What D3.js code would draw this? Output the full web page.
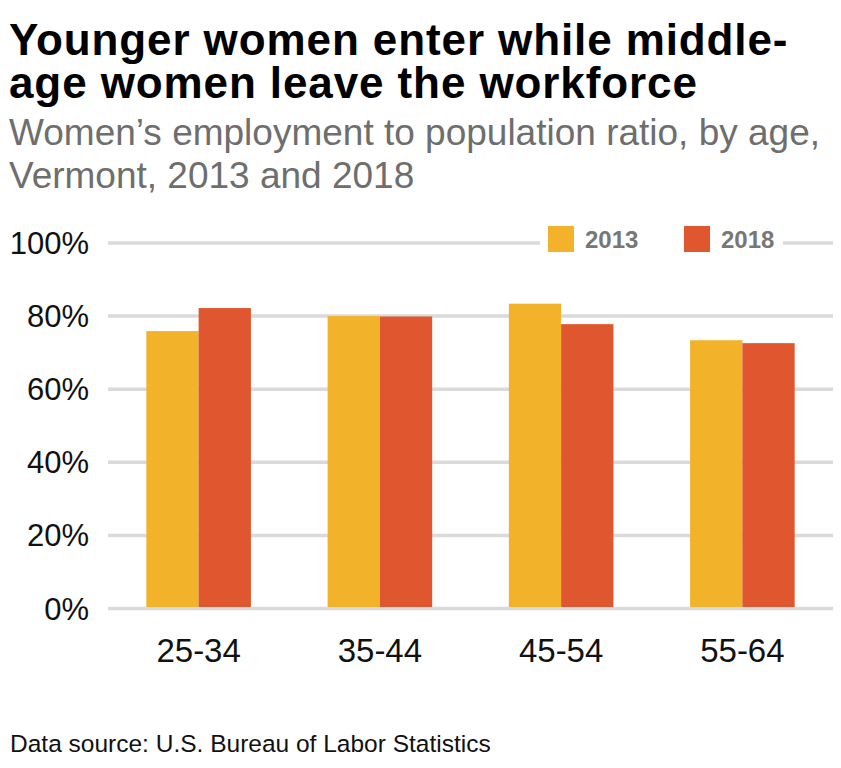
<!DOCTYPE html>
<html><head><meta charset="utf-8">
<script src="https://cdn.jsdelivr.net/npm/d3@7"></script>
<style>body{margin:0;background:#fff;} svg{display:block;}</style>
</head><body>
<script>
const categories = ["25-34", "35-44", "45-54", "55-64"];
const seriesNames = ["2013", "2018"];
const values2013 = [75.9, 80.0, 83.4, 73.4];
const values2018 = [82.2, 79.9, 77.8, 72.6];
const yTicks = [0, 20, 40, 60, 80, 100];
const colors = ["#F2B32A", "#E0562F"];

const W = 841, H = 768;
const svg = d3.select("body").append("svg").attr("width", W).attr("height", H);
const font = "Liberation Sans, Arial, Helvetica, sans-serif";

// Title
const titleLines = ["Younger women enter while middle-", "age women leave the workforce"];
svg.append("g").selectAll("text").data(titleLines).join("text")
  .attr("x", 9).attr("y", (d, i) => 55 + i * 43)
  .attr("font-family", font).attr("font-weight", "bold")
  .attr("font-size", 44).attr("letter-spacing", 0.9).attr("fill", "#000")
  .text(d => d);

const subLines = ["Women\u2019s employment to population ratio, by age,", "Vermont, 2013 and 2018"];
svg.append("g").selectAll("text").data(subLines).join("text")
  .attr("x", 9).attr("y", (d, i) => 145 + i * 43)
  .attr("font-family", font).attr("font-size", 37).attr("fill", "#6e6e6e")
  .text(d => d);

const x0 = d3.scaleBand().domain(categories).range([108, 833]).padding(0);
const groupW = x0.bandwidth() * 0.577;
const x1 = d3.scaleBand().domain(seriesNames).range([0, groupW]).padding(0);
const y = d3.scaleLinear().domain([0, 100]).range([608.5, 243]);

// gridlines
svg.append("g").selectAll("line").data(yTicks).join("line")
  .attr("x1", 108).attr("x2", 833)
  .attr("y1", d => y(d)).attr("y2", d => y(d))
  .attr("stroke", "#dadada").attr("stroke-width", 3.5);

// y labels
svg.append("g").selectAll("text").data(yTicks).join("text")
  .attr("x", 89).attr("y", d => y(d) + 11)
  .attr("text-anchor", "end").attr("font-family", font).attr("font-size", 31)
  .attr("fill", "#111").text(d => d + "%");

// bars
const data = categories.map((c, i) => ({cat: c, vals: [values2013[i], values2018[i]]}));
const groups = svg.append("g").selectAll("g").data(data).join("g")
  .attr("transform", d => `translate(${x0(d.cat) + (x0.bandwidth() - groupW) / 2},0)`);
groups.selectAll("rect").data(d => d.vals.map((v, j) => ({s: seriesNames[j], v, j})))
  .join("rect")
  .attr("x", d => x1(d.s)).attr("width", x1.bandwidth())
  .attr("y", d => y(d.v)).attr("height", d => y(0) - y(d.v) - 1.5)
  .attr("fill", d => colors[d.j]);

// x labels
svg.append("g").selectAll("text").data(categories).join("text")
  .attr("x", d => x0(d) + x0.bandwidth() / 2).attr("y", 662)
  .attr("text-anchor", "middle").attr("font-family", font).attr("font-size", 33)
  .attr("fill", "#111").text(d => d);

// legend
const lg = svg.append("g");
lg.append("rect").attr("x", 540).attr("y", 224).attr("width", 243).attr("height", 32).attr("fill", "#fff");
const legX = [548, 684];
seriesNames.forEach((s, i) => {
  lg.append("rect").attr("x", legX[i]).attr("y", 226).attr("width", 26).attr("height", 26).attr("fill", colors[i]);
  lg.append("text").attr("x", legX[i] + 37).attr("y", 248)
    .attr("font-family", font).attr("font-weight", "bold").attr("font-size", 24)
    .attr("fill", "#777").text(s);
});

// source
svg.append("text").attr("x", 10).attr("y", 752).attr("font-family", font)
  .attr("font-size", 24.5).attr("fill", "#111").text("Data source: U.S. Bureau of Labor Statistics");
</script>
</body></html>
